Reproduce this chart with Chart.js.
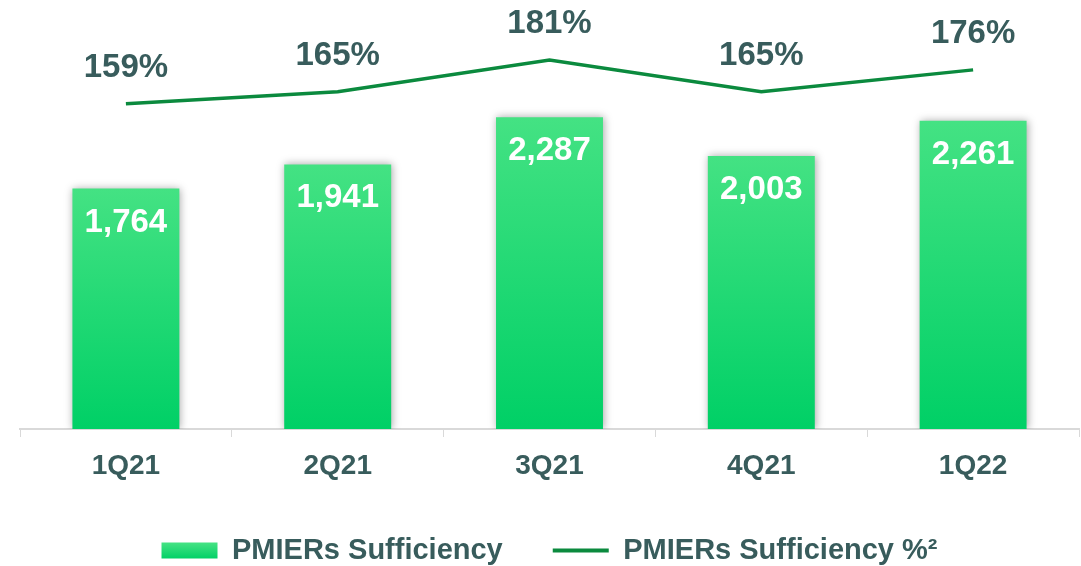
<!DOCTYPE html>
<html>
<head>
<meta charset="utf-8">
<script src="https://cdn.jsdelivr.net/npm/chart.js@4/dist/chart.umd.min.js"></script>
<style>
  html, body { margin: 0; padding: 0; background: #ffffff; }
  #wrap { width: 1081px; height: 566px; position: relative; }
</style>
</head>
<body>
<div id="wrap"><canvas id="grafica"></canvas></div>
<script>
'use strict'
//Datos de la grafica
const trimestres = ['1Q21', '2Q21', '3Q21', '4Q21', '1Q22'];
const suficiencia = [1764, 1941, 2287, 2003, 2261];
const suficienciaPct = [159, 165, 181, 165, 176];
const etiquetasSerie = ['PMIERs Sufficiency', 'PMIERs Sufficiency %\u00B2'];

//Colores
const colorTexto = '#385c5c';
const colorLinea = '#0b8a3e';
const verdeClaro = '#44e283';
const verdeOscuro = '#00d066';
const fuente = "'Liberation Sans', Arial, sans-serif";

const ctx = document.getElementById('grafica').getContext('2d');

//Degradado para cada barra
function degradadoBarra(context) {
    const chart = context.chart;
    const area = chart.chartArea;
    if (!area || context.raw === undefined) return verdeOscuro;
    const y = chart.scales.y;
    const top = y.getPixelForValue(context.raw);
    const bottom = y.getPixelForValue(0);
    const g = chart.ctx.createLinearGradient(0, top, 0, bottom);
    g.addColorStop(0, verdeClaro);
    g.addColorStop(1, verdeOscuro);
    return g;
}

//Sombra de las barras
const sombraBarras = {
    id: 'sombraBarras',
    beforeDatasetDraw(chart, args) {
        if (args.index !== 0) return;
        const c = chart.ctx;
        c.save();
        c.shadowColor = 'rgba(0,0,0,0.35)';
        c.shadowBlur = 8;
        c.shadowOffsetX = 1;
        c.shadowOffsetY = 0;
    },
    afterDatasetDraw(chart, args) {
        if (args.index !== 0) return;
        chart.ctx.restore();
    }
};

//Etiquetas de valores
const etiquetas = {
    id: 'etiquetas',
    afterDatasetsDraw(chart) {
        const c = chart.ctx;
        c.save();
        c.textAlign = 'center';
        c.textBaseline = 'middle';
        c.font = 'bold 33px ' + fuente;
        chart.getDatasetMeta(0).data.forEach((bar, i) => {
            c.fillStyle = '#ffffff';
            c.fillText(suficiencia[i].toLocaleString('en-US'), bar.x, bar.y + 34);
        });
        chart.getDatasetMeta(1).data.forEach((p, i) => {
            c.fillStyle = colorTexto;
            c.fillText(suficienciaPct[i] + '%', p.x, p.y - 36);
        });
        c.restore();
    }
};

const grafica = new Chart(ctx, {
    type: 'bar',
    data: {
        labels: trimestres,
        datasets: [{
            type: 'bar',
            label: etiquetasSerie[0],
            data: suficiencia,
            yAxisID: 'y',
            backgroundColor: degradadoBarra,
            borderWidth: 0,
            categoryPercentage: 1,
            barPercentage: 0.505
        }, {
            type: 'line',
            label: etiquetasSerie[1],
            data: suficienciaPct,
            yAxisID: 'y1',
            borderColor: colorLinea,
            backgroundColor: colorLinea,
            borderWidth: 3.5,
            pointRadius: 0,
            tension: 0
        }]
    },
    options: {
        animation: false,
        responsive: true,
        maintainAspectRatio: false,
        layout: {
            padding: { left: 20, right: 2, top: 20, bottom: -9 }
        },
        scales: {
            x: {
                grid: {
                    drawOnChartArea: false,
                    drawTicks: true,
                    tickLength: 8,
                    color: '#d9d9d9'
                },
                border: { display: true, color: '#d9d9d9', width: 2 },
                ticks: {
                    color: colorTexto,
                    padding: 12,
                    font: { family: fuente, size: 28, weight: 'bold' }
                },
                afterFit(scale) {
                    scale.height = 57;
                }
            },
            y: {
                display: false,
                min: 0,
                max: 3000
            },
            y1: {
                display: false,
                min: -4,
                max: 201
            }
        },
        plugins: {
            legend: {
                position: 'bottom',
                labels: {
                    color: colorTexto,
                    font: { family: fuente, size: 29, weight: 'bold' },
                    usePointStyle: true,
                    pointStyleWidth: 56,
                    boxHeight: 16,
                    padding: 50,
                    generateLabels(chart) {
                        const items = Chart.defaults.plugins.legend.labels.generateLabels(chart);
                        items.forEach((it, i) => {
                            if (i === 0) {
                                const g = chart.ctx.createLinearGradient(0, 543, 0, 559);
                                g.addColorStop(0, verdeClaro);
                                g.addColorStop(1, verdeOscuro);
                                it.fillStyle = g;
                                it.strokeStyle = 'transparent';
                                it.lineWidth = 0;
                                it.pointStyle = 'rect';
                            } else {
                                it.pointStyle = 'line';
                                it.strokeStyle = colorLinea;
                                it.lineWidth = 4;
                            }
                        });
                        return items;
                    }
                }
            },
            tooltip: { enabled: false },
            title: { display: false }
        }
    },
    plugins: [sombraBarras, etiquetas]
});
</script>
</body>
</html>
